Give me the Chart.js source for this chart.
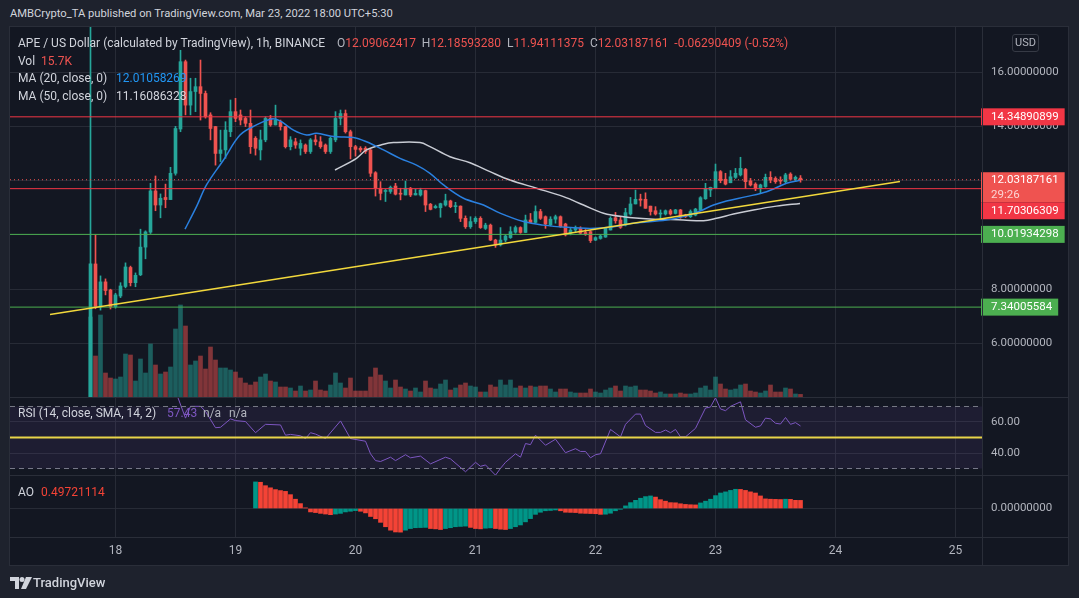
<!DOCTYPE html>
<html><head><meta charset="utf-8">
<script src="https://cdn.jsdelivr.net/npm/chart.js@4.4.1/dist/chart.umd.min.js"></script>
<style>
html,body{margin:0;padding:0;background:#1e222d;width:1079px;height:598px;overflow:hidden;font-family:Roboto,"DejaVu Sans",sans-serif;}
#frame{position:absolute;left:10px;top:27px;width:1058px;height:538px;background:#131722;box-shadow:0 0 0 1px #2a2e39;}
canvas{position:absolute;}
.t{position:absolute;white-space:pre;font-size:12px;line-height:16px;color:#d1d4dc;}
.hl{position:absolute;height:1px;background:#2a2e39;left:10px;width:1058px;}
.vl{position:absolute;width:1px;background:#2a2e39;}
</style></head>
<body>
<div class="t" style="left:10px;top:6px;font-size:11.2px;">AMBCrypto_TA published on TradingView.com, Mar 23, 2022 18:00 UTC+5:30</div>
<div id="frame"></div>
<canvas id="cMain" width="1058" height="370" style="left:10px;top:27px;"></canvas>
<canvas id="cRsi" width="1058" height="77" style="left:10px;top:398px;"></canvas>
<canvas id="cAo" width="1058" height="89" style="left:10px;top:476px;"></canvas>
<div class="hl" style="top:397px"></div>
<div class="hl" style="top:475px"></div>
<div class="hl" style="top:537px"></div>
<div class="vl" style="left:982px;top:27px;height:538px"></div>

<div class="t" style="left:18px;top:35px;">APE / US Dollar (calculated by TradingView), 1h, BINANCE</div>
<div class="t" id="ohlc" style="left:337px;top:35px;"></div>
<div class="t" style="left:18px;top:53px;">Vol</div>
<div class="t" style="left:41px;top:53px;color:#ef5350">15.7K</div>
<div class="t" style="left:18px;top:70px;">MA (20, close, 0)</div>
<div class="t" style="left:116px;top:70px;color:#2196f3">12.01058269</div>
<div class="t" style="left:18px;top:88px;">MA (50, close, 0)</div>
<div class="t" style="left:116px;top:88px;">11.16086328</div>
<div class="t" style="left:18px;top:405px;">RSI (14, close, SMA, 14, 2)</div>
<div class="t" style="left:167px;top:405px;color:#7e57c2">57.43</div>
<div class="t" style="left:203px;top:405px;color:#b2b5be">n/a</div>
<div class="t" style="left:229px;top:405px;color:#b2b5be">n/a</div>
<div class="t" style="left:18px;top:484px;">AO</div>
<div class="t" style="left:41px;top:484px;color:#f44336">0.49721114</div>
<div class="t" style="left:1012px;top:34px;width:25px;height:16px;border:1px solid #363a45;border-radius:3px;text-align:center;font-size:11px;color:#b2b5be;">USD</div>
<svg style="position:absolute;left:10px;top:577px" width="22" height="12" viewBox="0 0 22 12"><path d="M0 0h9v12H5V4H0z" fill="#d1d4dc"/><circle cx="12" cy="2.5" r="2.5" fill="#d1d4dc"/><path d="M16 0h6l-6 12h-5z" fill="#d1d4dc"/></svg>
<div class="t" style="left:33px;top:575px;font-size:13px;font-weight:500;">TradingView</div>

<script>
// ---------- DATA ----------
const firstHour = -5; // hours relative to Mar 18 00:00 (UTC+5:30)
const opens = [3.90,8.93,7.35,8.27,7.97,7.36,7.75,8.10,8.80,8.24,
 8.53,9.55,10.10,11.62,11.10,11.38,11.30,12.27,13.90,16.38,
 14.78,15.28,15.46,15.21,14.42,13.99,13.00,13.13,13.80,14.54,
 14.42,14.29,14.11,13.56,13.13,13.50,14.29,14.05,14.17,13.99,
 13.25,13.43,13.19,13.31,13.07,13.50,13.43,13.31,13.07,13.50,
 14.29,14.47,13.80,13.25,13.19,13.19,13.13,12.29,11.72,11.60,
 11.60,11.80,11.53,11.47,11.72,11.47,11.47,11.63,11.13,11.00,
 11.00,11.10,11.25,11.04,11.06,10.61,10.30,10.49,10.61,10.24,
 10.36,9.81,9.63,9.81,9.90,10.10,10.27,10.09,10.55,10.46,
 10.86,10.67,10.37,10.58,10.67,10.40,10.06,10.18,10.24,10.09,
 10.12,9.81,9.87,9.92,10.18,10.63,10.55,10.36,10.77,11.14,
 11.32,11.31,11.06,10.89,10.77,10.77,10.89,10.79,10.92,10.73,
 10.67,10.73,10.92,11.33,11.65,11.71,12.33,12.05,11.92,12.12,
 12.21,12.41,11.99,11.87,11.71,11.78,12.12,12.08,12.00,11.96,
 12.24,12.05,12.09062417];
const highs = [18.5,10.00,8.49,8.38,8.00,7.85,8.24,8.97,8.85,8.60,
 10.21,10.15,11.90,12.17,11.51,11.87,12.49,14.00,16.80,16.44,
 15.77,15.77,16.44,15.30,14.50,14.00,13.86,14.17,14.97,15.03,
 14.60,14.35,14.60,13.62,13.86,14.35,14.40,14.78,14.23,14.00,
 13.62,13.56,13.50,13.35,13.55,13.68,13.62,13.35,13.60,14.54,
 14.60,14.60,13.86,13.30,13.25,13.25,13.15,12.33,11.96,11.68,
 11.80,11.90,11.72,11.98,11.75,11.68,11.72,11.65,11.16,11.10,
 11.17,11.50,11.28,11.20,11.07,10.70,10.67,10.67,10.67,10.43,
 10.40,9.84,10.27,10.00,10.30,10.33,10.30,10.73,10.79,11.07,
 10.94,10.70,10.67,10.73,10.70,10.43,10.24,10.33,10.30,10.20,
 10.15,9.93,10.00,10.28,10.67,10.83,10.65,10.98,11.38,11.65,
 11.50,11.55,11.06,11.04,10.92,10.92,10.94,10.94,10.94,10.76,
 10.92,10.98,11.41,11.90,11.76,12.61,12.37,12.27,12.37,12.45,
 12.86,12.45,12.08,11.92,11.87,12.24,12.33,12.14,12.14,12.27,
 12.29,12.17,12.1859328];
const lows = [3.50,7.28,7.23,7.79,7.27,7.30,7.69,8.05,8.12,8.09,
 8.50,9.12,10.05,10.89,10.63,11.00,11.30,12.20,13.80,14.42,
 14.42,14.54,14.23,14.30,13.50,12.57,12.70,12.82,13.62,14.17,
 14.05,13.99,13.00,12.94,12.76,13.43,14.00,14.05,13.86,13.20,
 13.13,13.19,12.94,13.00,13.00,13.31,13.19,13.00,13.00,13.43,
 14.05,13.75,12.80,12.90,13.05,13.00,12.15,11.43,11.29,11.23,
 11.53,11.47,11.29,11.47,11.41,11.47,11.43,10.86,10.92,10.98,
 10.65,11.06,11.00,10.82,10.49,10.24,10.24,10.42,10.24,10.20,
 9.79,9.54,9.59,9.75,9.87,10.06,10.06,10.08,10.45,10.43,
 10.57,10.24,10.33,10.43,10.28,9.96,10.00,10.12,10.03,9.98,
 9.72,9.79,9.84,9.91,10.18,10.43,10.24,10.33,10.73,11.14,
 11.06,10.98,10.73,10.73,10.57,10.73,10.73,10.77,10.61,10.64,
 10.64,10.70,10.89,11.31,11.41,11.71,11.92,11.84,11.92,12.08,
 12.17,11.71,11.80,11.63,11.55,11.75,11.92,11.90,11.87,11.92,
 12.02,11.96,11.94111375];
const closes = [8.93,7.35,8.27,7.95,7.35,7.79,8.12,8.82,8.24,8.51,
 9.55,10.11,11.62,11.10,11.35,11.30,12.27,13.92,16.38,14.78,
 15.28,15.46,15.21,14.35,13.92,13.00,13.13,13.86,14.54,14.29,
 14.23,14.11,13.25,13.19,13.50,14.29,14.05,14.23,13.99,13.25,
 13.50,13.31,13.37,13.07,13.50,13.43,13.25,13.07,13.56,14.29,
 14.47,13.80,13.25,13.15,13.13,13.07,12.27,11.72,11.53,11.62,
 11.75,11.50,11.50,11.72,11.47,11.53,11.65,11.10,10.94,11.05,
 11.15,11.26,11.04,11.07,10.61,10.30,10.49,10.61,10.27,10.36,
 9.81,9.63,9.81,9.96,10.12,10.27,10.09,10.55,10.46,10.86,
 10.61,10.40,10.58,10.67,10.30,10.00,10.18,10.24,10.06,10.03,
 9.79,9.90,9.96,10.26,10.61,10.52,10.28,10.82,11.14,11.31,
 11.28,10.98,10.86,10.77,10.79,10.89,10.77,10.92,10.67,10.67,
 10.86,10.95,11.37,11.71,11.75,12.33,12.00,11.87,12.14,12.27,
 12.45,11.96,11.84,11.71,11.84,12.12,12.02,11.96,11.98,12.21,
 12.05,12.12,12.03187161];
const volumesK = [480,246,492,144,114,108,120,258,252,96,
 228,144,318,192,138,150,180,408,552,426,
 192,216,246,168,300,222,174,174,162,150,
 114,84,72,90,120,138,96,90,60,60,
 54,36,66,36,42,96,42,36,72,144,
 84,54,114,36,36,36,120,174,132,96,
 54,102,60,48,36,54,30,96,54,48,
 78,102,42,54,72,84,66,60,30,30,
 72,60,102,72,102,54,66,54,66,60,
 66,66,48,30,48,48,30,24,24,24,
 48,30,24,42,54,66,36,66,60,66,
 42,42,36,24,30,18,18,18,24,18,
 18,24,54,66,42,120,78,48,42,48,
 72,78,36,30,24,36,72,30,30,54,
 48,18,15.7];
const ma20Hours = [13.9,16.2,18.2,21.6,24.9,28.2,31.2,32.9,35.6,38.2,40.2,43.6,47.6,50.2,53.6,56.9,60.2,62.9,65.6,69.6,73.6,76.9,81.6,85.6,90.2,94.9,98.9,103.6,110.2,114.2,116.9,119.6,122.2,126.2,130.2,134.2,136.9];
const ma20Values = [10.21,11.04,11.84,12.76,13.68,14.05,14.27,14.20,13.86,13.68,13.74,13.62,13.59,13.43,13.13,12.82,12.57,12.27,11.84,11.35,11.10,10.80,10.49,10.36,10.28,10.24,10.28,10.43,10.55,10.70,10.88,11.10,11.25,11.41,11.59,11.90,12.01];
const ma50Hours = [43.9,48.2,50.2,53.6,55.6,60.9,62.9,66.9,70.9,74.9,78.9,84.2,89.6,93.6,97.6,101.6,106.9,113.6,117.6,120.2,123.6,127.6,132.2,136.9];
const ma50Values = [12.39,12.82,13.13,13.34,13.40,13.40,13.25,12.88,12.66,12.33,12.02,11.72,11.41,11.10,10.80,10.67,10.59,10.55,10.52,10.61,10.77,10.92,11.06,11.16];
const trendHours = [-13.1,156.9];
const trendPrices = [7.07,11.97];
const redLevels = [14.34890899,11.70306309];
const greenLevels = [10.01934298,7.34005584];
const countdown = '29:26';
const rsiHours = [12,14,15,17,18,20,21,23,24,26,28,30,33,34,35,37,38,39,40,42,45,47,50,51,52,53,55,56,58,59,61,63,66,67,70,72,73,74,76,77,78,80,81,82,83,84,86,88,90,92,93,94,95,96,97,99,101,102,104,105,106,108,109,110,111,112,113,114,116,117,118,119,120,121,122,123,125,126,128,129,130,131,132,133,134,135,136,137];
const rsiValues = [80,62.5,70.1,70.1,66.8,56.3,56.6,62.0,60.9,60.3,53.1,58.5,58.1,51.5,52.0,51.1,49.3,53.1,52.2,49.3,60.7,49.3,47.6,39.5,35.1,34.5,37.3,35.1,38.9,36.9,38.0,33.0,37.3,36.2,27.9,34.0,31.4,32.3,25.7,30.1,34.0,39.5,37.3,46.1,45.4,51.5,45.0,48.9,40.2,42.8,41.0,41.0,36.9,38.9,39.5,55.2,50.4,58.5,65.1,65.1,57.7,53.3,53.3,54.8,53.1,55.2,50.4,50.4,55.9,62.5,69.0,69.7,75.6,68.4,67.3,70.1,73.0,61.4,56.6,57.5,62.5,62.0,59.2,58.7,62.9,58.5,59.6,57.43];
const rsiLevels = [70,50,30];
const aoStartHour = 28;
const aoValues = [1.63,1.61,1.40,1.27,1.16,1.10,1.05,0.85,0.57,0.30,
 0.04,-0.21,-0.25,-0.30,-0.34,-0.38,-0.34,-0.30,-0.21,-0.17,
 -0.13,-0.17,-0.27,-0.49,-0.63,-0.85,-1.12,-1.33,-1.44,-1.45,
 -1.33,-1.23,-1.18,-1.17,-1.16,-1.23,-1.25,-1.29,-1.23,-1.18,
 -1.12,-1.10,-1.08,-1.16,-1.23,-1.25,-1.21,-1.19,-1.23,-1.27,
 -1.29,-1.23,-1.12,-1.01,-0.82,-0.62,-0.36,-0.23,-0.14,-0.12,
 -0.09,-0.14,-0.23,-0.24,-0.25,-0.29,-0.30,-0.31,-0.32,-0.36,
 -0.35,-0.29,-0.14,-0.05,0.16,0.36,0.50,0.63,0.73,0.77,
 0.70,0.54,0.45,0.36,0.35,0.29,0.25,0.23,0.22,0.34,
 0.45,0.57,0.79,0.95,1.02,1.11,1.18,1.17,1.11,1.02,
 0.95,0.77,0.59,0.57,0.56,0.55,0.57,0.56,0.50,0.49721114];
const dayHours = [0,24,48,72,96,120,144,168];
const dayLabels = ['18','19','20','21','22','23','24','25'];
const priceTicks = [6,8,10,12,14,16];
const rsiTicks = [40,60];
const aoTicks = [0];

// ---------- LEGEND OHLC ----------
(function(){
  const last = opens.length - 1;
  const red = '#ef5350', g = '#b2b5be';
  const sp = (t,c)=>'<span style="color:'+c+'">'+t+'</span>';
  document.getElementById('ohlc').innerHTML =
    sp('O',g)+sp(opens[last].toFixed(8),red)+'  '+sp('H',g)+sp(highs[last].toFixed(8),red)+'  '+
    sp('L',g)+sp(lows[last].toFixed(8),red)+'  '+sp('C',g)+sp(closes[last].toFixed(8),red)+'  '+
    sp('-0.06290409 (-0.52%)',red);
})();

// ---------- CHARTS ----------
Chart.defaults.font.family = 'Roboto';
const xMin = -21.1, xMax = 173.3;
const GRID = 'rgba(42,46,57,0.9)';
const TXT = '#b2b5be';
const UP = '#26a69a', DOWN = '#ef5350';
const hourOf = i => firstHour + i;
const upFlags = closes.map((c,i)=> c >= opens[i]);

function xScale(show){
  return {
    type:'linear', min:xMin, max:xMax, offset:false,
    grid:{color:GRID, drawTicks:false, offset:false},
    border:{display:false},
    ticks:{display:show, color:TXT, font:{size:12}, padding:6, maxRotation:0, autoSkip:false,
      callback:(v,i)=>dayLabels[i]},
    afterBuildTicks:s=>{ s.ticks = dayHours.map(v=>({value:v})); },
    afterFit:s=>{ s.height = show ? 27 : 0; s.paddingLeft = 0; s.paddingRight = 0; s.paddingTop = 0; s.paddingBottom = 0; }
  };
}
function yScale(min,max,ticks,dec){
  return {
    position:'right', min, max,
    grid:{color:GRID, drawTicks:false},
    border:{display:false},
    ticks:{color:TXT, font:{size:11.5}, padding:9, callback:v=>Number(v).toFixed(dec)},
    afterBuildTicks:s=>{ s.ticks = ticks.map(v=>({value:v})); },
    afterFit:s=>{ s.width = 86; s.paddingTop = 0; s.paddingBottom = 0; s.paddingLeft = 0; s.paddingRight = 0; }
  };
}
const hline = (v,color,extra)=>Object.assign({type:'line', data:[{x:xMin,y:v},{x:xMax,y:v}], borderColor:color, borderWidth:1, pointRadius:0, fill:false}, extra||{});
const common = {responsive:false, animation:false, events:[], devicePixelRatio:1,
  layout:{padding:0}, plugins:{legend:{display:false}, tooltip:{enabled:false}}};

const priceBoxes = {
  id:'priceBoxes',
  afterDraw(chart){
    const ctx = chart.ctx, ys = chart.scales.y, a = chart.chartArea;
    const last = closes.length-1;
    const items = [
      {v:redLevels[0], c:'#f23645'},
      {v:closes[last], c:'#ef5350', sub:countdown},
      {v:redLevels[1], c:'#f23645'},
      {v:greenLevels[0], c:'#4caf50'},
      {v:greenLevels[1], c:'#4caf50'}
    ];
    ctx.save();
    ctx.font = '11.5px Roboto';
    ctx.textBaseline = 'middle';
    let prev = -1e9;
    for (const it of items){
      const py = ys.getPixelForValue(it.v);
      const h = it.sub ? 30 : 17;
      let top = it.sub ? py - 7.5 : py - 8.5;
      if (top < prev) top = prev;
      const txt = it.v.toFixed(8);
      const w = ctx.measureText(txt).width + 16;
      ctx.fillStyle = it.c;
      ctx.fillRect(a.right - 1, top, w, h);
      ctx.fillStyle = '#ffffff';
      ctx.fillText(txt, a.right + 9, it.sub ? top + 8 : top + h/2);
      if (it.sub){ ctx.fillStyle='rgba(255,255,255,0.75)'; ctx.fillText(it.sub, a.right + 9, top + 22.5); }
      prev = top + h;
    }
    ctx.restore();
  }
};

new Chart(document.getElementById('cMain'), {
  type:'bar',
  data:{datasets:[
    {type:'bar', yAxisID:'yVol', order:20, grouped:false, barThickness:4,
     data:volumesK.map((v,i)=>({x:hourOf(i), y:v})),
     backgroundColor:upFlags.map(u=>u?'rgba(38,166,154,0.5)':'rgba(239,83,80,0.5)')},
    {type:'bar', yAxisID:'y', order:15, grouped:false, barThickness:1, minBarLength:1,
     data:opens.map((o,i)=>({x:hourOf(i), y:[lows[i],highs[i]]})),
     backgroundColor:upFlags.map(u=>u?UP:DOWN)},
    {type:'bar', yAxisID:'y', order:14, grouped:false, barThickness:3, minBarLength:1,
     data:opens.map((o,i)=>({x:hourOf(i), y:[o,closes[i]]})),
     backgroundColor:upFlags.map(u=>u?UP:DOWN)},
    {type:'line', yAxisID:'y', order:12, data:ma50Hours.map((h,i)=>({x:h,y:ma50Values[i]})),
     borderColor:'#c9ccd4', borderWidth:1.5, pointRadius:0, tension:0.35, fill:false},
    {type:'line', yAxisID:'y', order:11, data:ma20Hours.map((h,i)=>({x:h,y:ma20Values[i]})),
     borderColor:'#2a80e0', borderWidth:1.5, pointRadius:0, tension:0.35, fill:false},
    hline(redLevels[0],'#f23645',{order:5, yAxisID:'y'}),
    hline(redLevels[1],'#f23645',{order:5, yAxisID:'y'}),
    hline(greenLevels[0],'#4caf50',{order:5, yAxisID:'y'}),
    hline(greenLevels[1],'#4caf50',{order:5, yAxisID:'y'}),
    {type:'line', yAxisID:'y', order:4, data:trendHours.map((h,i)=>({x:h,y:trendPrices[i]})),
     borderColor:'#f2d83c', borderWidth:1.5, pointRadius:0, fill:false},
    hline(closes[closes.length-1],'#ef5350',{order:3, yAxisID:'y', borderDash:[1,3]})
  ]},
  options:Object.assign({}, common, {
    scales:{
      x:xScale(false),
      y:yScale(4.0295,17.6575,priceTicks,8),
      yVol:{display:false, min:0, max:2220}
    }
  }),
  plugins:[priceBoxes]
});

new Chart(document.getElementById('cRsi'), {
  type:'line',
  data:{datasets:[
    hline(rsiLevels[0],'#787b86',{borderDash:[5,4], fill:{value:rsiLevels[2]}, backgroundColor:'rgba(126,87,194,0.1)'}),
    hline(rsiLevels[2],'#787b86',{borderDash:[5,4]}),
    hline(rsiLevels[1],'#f5e43c',{borderWidth:2}),
    {data:rsiHours.map((h,i)=>({x:h,y:rsiValues[i]})), borderColor:'#7e57c2', borderWidth:1, pointRadius:0, fill:false, tension:0}
  ]},
  options:Object.assign({}, common, {
    scales:{ x:xScale(false), y:yScale(25.81,75.48,rsiTicks,2) }
  })
});

new Chart(document.getElementById('cAo'), {
  type:'bar',
  data:{datasets:[
    {data:aoValues.map((v,i)=>({x:aoStartHour+i, y:v})), barThickness:4, grouped:false,
     backgroundColor:aoValues.map((v,i)=> (i===0 || v>=aoValues[i-1]) ? '#009688' : '#f44336')}
  ]},
  options:Object.assign({}, common, {
    scales:{ x:xScale(true), y:yScale(-1.81,1.994,aoTicks,8) }
  })
});
</script>
</body></html>
